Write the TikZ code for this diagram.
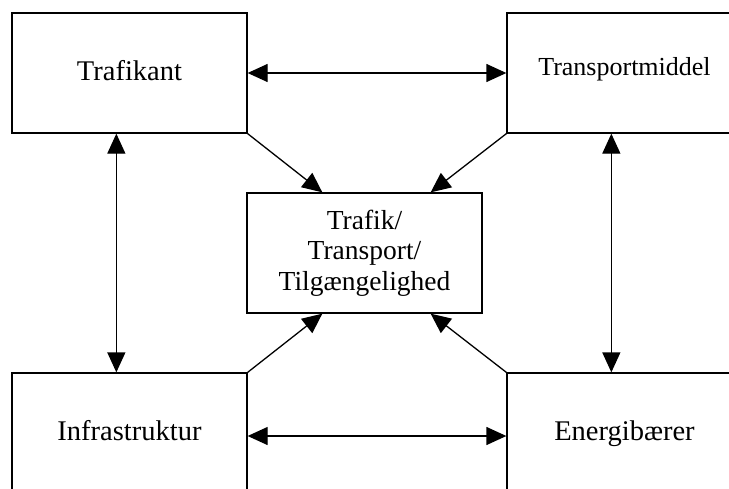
\documentclass[tikz,border=0pt]{standalone}
\usepackage{fontspec}
\setmainfont{Liberation Serif}
\usetikzlibrary{arrows.meta,calc}
\begin{document}
\begin{tikzpicture}[x=1pt,y=-1pt,
  box/.style={draw,line width=1.3pt,rectangle,minimum width=235pt,minimum height=120pt,
    inner sep=0pt,align=center,font=\fontsize{28.5}{31}\selectfont},
  oneline/.style={text height=20pt,text depth=6pt},
  link/.style={line width=1.3pt,-{Triangle[length=20pt,width=18pt]}},
  both/.style={line width=1.3pt,{Triangle[length=20pt,width=18pt]}-{Triangle[length=20pt,width=18pt]}}]
\useasboundingbox (0,0) rectangle (729,488);
% the five blocks
\node[box,oneline] (tl) at (129.5,73) {Trafikant};
\node[box,font=\fontsize{26}{30}\selectfont,text height=14pt,text depth=10pt] (tr) at (624.5,73) {Transportmiddel};
\node[box,oneline] (bl) at (129.5,433) {Infrastruktur};
\node[box,oneline] (br) at (624.5,433) {Energibærer};
\node[box,font=\fontsize{27.5}{30.5}\selectfont] (c) at (364.5,253) {Trafik/\\Transport/\\Tilgængelighed};
% two-way links between the outer blocks
\draw[both] (tl.east) -- (tr.west);
\draw[both] ($(bl.east)+(0,3)$) -- ($(br.west)+(0,3)$);
\draw[both] ($(tl.south west)+(105,0)$) -- ($(bl.north west)+(105,0)$);
\draw[both] ($(tr.south west)+(105,0)$) -- ($(br.north west)+(105,0)$);
% links into the central block
\draw[link] (tl.south east) -- ($(c.north west)+(76,0)$);
\draw[link] (tr.south west) -- ($(c.north east)+(-52,0)$);
\draw[link] (bl.north east) -- ($(c.south west)+(76,0)$);
\draw[link] (br.north west) -- ($(c.south east)+(-52,0)$);
\end{tikzpicture}
\end{document}
